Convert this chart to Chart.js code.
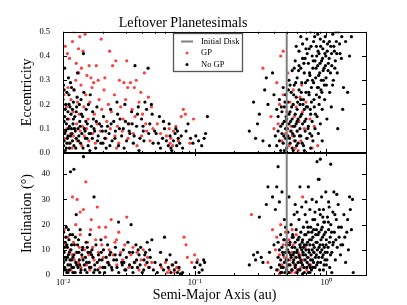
<!DOCTYPE html>
<html>
<head>
<meta charset="utf-8">
<script src="https://cdn.jsdelivr.net/npm/chart.js@4"></script>
<style>
  html, body { margin: 0; padding: 0; background: #fff; }
  #wrap { position: relative; width: 407px; height: 305px; overflow: hidden; }
  canvas { position: absolute; left: 0; }
  #top { top: 0; }
  #bottom { top: 134px; }
</style>
</head>
<body>
<div id="wrap">
  <canvas id="top" width="407" height="171"></canvas>
  <canvas id="bottom" width="407" height="171"></canvas>
</div>
<script>
const SERIF = "'Liberation Serif', 'Times New Roman', serif";

// x axis (semi-major axis, au)
const xMajor = [0.01, 0.1, 1];
const xTickLabels = ["10\u207B\u00B2", "10\u207B\u00B9", "10\u2070"];
const xMinor = [0.02, 0.03, 0.04, 0.05, 0.06, 0.07, 0.08, 0.09,
  0.2, 0.3, 0.4, 0.5, 0.6, 0.7, 0.8, 0.9, 2];
const diskEdges = [0.01, 0.5];
const eccMax = 0.5;
const incMax = 48.8;

// top panel: [a, e]
const gpEcc = [
  [0.0104,0.44],[0.0108,0.41],[0.0112,0.39],[0.0118,0.46],[0.0121,0.50],[0.0126,0.37],[0.0131,0.43],
  [0.0134,0.48],[0.0138,0.35],[0.0142,0.42],[0.0147,0.49],[0.0152,0.32],[0.0158,0.36],[0.0163,0.31],
  [0.0171,0.29],[0.0179,0.36],[0.0185,0.30],[0.0195,0.47],[0.0208,0.31],[0.0226,0.42],[0.0238,0.36],
  [0.0252,0.38],[0.0268,0.30],[0.0290,0.29],[0.0305,0.38],[0.0325,0.29],[0.0348,0.27],[0.036,0.30],
  [0.0415,0.33],[0.0132,0.33],[0.0125,0.30],
  [0.0102,0.24],[0.0106,0.19],[0.0109,0.27],[0.0111,0.14],[0.0115,0.22],[0.0119,0.17],[0.0122,0.26],
  [0.0127,0.12],[0.0129,0.21],[0.0133,0.16],[0.0137,0.28],[0.0141,0.11],[0.0144,0.19],[0.0149,0.24],
  [0.0155,0.14],[0.016,0.21],[0.0166,0.27],[0.0173,0.16],[0.0181,0.12],[0.0188,0.22],[0.0197,0.18],
  [0.0205,0.26],[0.0215,0.13],[0.0221,0.2],[0.0233,0.17],[0.0246,0.24],[0.0259,0.11],[0.0274,0.19],
  [0.0286,0.14],[0.0299,0.22],[0.0318,0.12],[0.0335,0.18],[0.0352,0.15],[0.0378,0.21],[0.0402,0.16],
  [0.0425,0.12],[0.0445,0.23],[0.047,0.19],[0.039,0.25],[0.031,0.27],
  [0.0101,0.09],[0.0103,0.06],[0.0107,0.1],[0.011,0.04],[0.0114,0.08],[0.0117,0.02],[0.012,0.07],
  [0.0123,0.1],[0.0128,0.05],[0.0135,0.09],[0.0139,0.03],[0.0145,0.07],[0.0151,0.1],[0.0157,0.05],
  [0.0168,0.08],[0.0176,0.04],[0.0192,0.09],[0.0212,0.06],[0.0229,0.1],[0.0248,0.07],[0.0265,0.04],
  [0.0282,0.09],[0.0312,0.06],[0.0342,0.08],[0.0365,0.03],[0.0395,0.07],[0.0432,0.09],[0.0458,0.05],
  [0.0482,0.1],[0.0255,0.02],
  [0.052,0.12],[0.055,0.08],[0.058,0.13],[0.061,0.07],[0.064,0.10],[0.066,0.06],[0.069,0.09],
  [0.072,0.11],[0.075,0.05],[0.068,0.03],[0.079,0.15],[0.082,0.18],[0.085,0.16],[0.092,0.04],
  [0.098,0.14],[0.065,0.04],
  [0.33,0.35],[0.38,0.15],[0.40,0.10],[0.42,0.29],[0.44,0.2],[0.45,0.4],[0.46,0.05],[0.47,0.24],
  [0.48,0.13],[0.49,0.08],[0.50,0.17],[0.52,0.03],[0.53,0.21],[0.54,0.11],[0.55,0.07],[0.56,0.26],
  [0.57,0.15],[0.58,0.02],[0.59,0.19],[0.6,0.09],[0.62,0.13],[0.63,0.23],[0.64,0.05],[0.66,0.17],
  [0.68,0.1],[0.7,0.21],[0.72,0.06],[0.75,0.14],[0.78,0.02],[0.81,0.11],[0.86,0.03],[0.51,0.33],
  [0.47,0.42],[0.65,0.28],[0.43,0.12],[0.61,0.01],[0.53,0.09],[0.57,0.05]
];

const noGpEcc = [
  [0.0100,0.22],[0.0101,0.28],[0.0102,0.13],[0.0102,0.05],[0.0103,0.35],[0.0104,0.18],[0.0105,0.09],
  [0.0106,0.02],[0.0107,0.25],[0.0108,0.14],[0.0109,0.07],[0.011,0.31],[0.0111,0.2],[0.0112,0.11],
  [0.0113,0.04],[0.0115,0.16],[0.0116,0.27],[0.0117,0.08],[0.0119,0.12],[0.012,0.21],[0.0121,0.03],
  [0.0123,0.15],[0.0124,0.09],[0.0126,0.06],[0.0127,0.19],[0.0129,0.33],[0.013,0.1],[0.0132,0.07],
  [0.0134,0.13],[0.0136,0.04],[0.0137,0.22],[0.0139,0.08],[0.0141,0.15],[0.0143,0.41],[0.0145,0.1],
  [0.0148,0.06],[0.015,0.18],[0.0153,0.12],[0.0155,0.03],[0.0158,0.08],[0.0161,0.24],[0.0164,0.11],
  [0.0167,0.06],[0.017,0.14],[0.0174,0.09],[0.0177,0.02],[0.0181,0.19],[0.0185,0.07],[0.0189,0.12],
  [0.0194,0.04],[0.0199,0.09],[0.0203,0.15],[0.0208,0.06],[0.0213,0.02],[0.0218,0.11],[0.0224,0.08],
  [0.023,0.18],[0.0236,0.05],[0.0243,0.13],[0.025,0.09],[0.0257,0.21],[0.0264,0.03],[0.0271,0.14],
  [0.0279,0.07],[0.0287,0.1],[0.0295,0.2],[0.0304,0.05],[0.0313,0.12],[0.0322,0.08],[0.0332,0.17],
  [0.0342,0.04],[0.0352,0.36],[0.0362,0.11],[0.0373,0.19],[0.0384,0.06],[0.0395,0.14],[0.0407,0.09],
  [0.0419,0.21],[0.0431,0.18],[0.0443,0.35],[0.0456,0.12],[0.0469,0.2],[0.0483,0.04],[0.0497,0.09],
  [0.0101,0.03],[0.0103,0.08],[0.0104,0.01],[0.0106,0.12],[0.0108,0.06],[0.011,0.1],[0.0112,0.02],
  [0.0114,0.07],[0.0118,0.05],[0.0122,0.1],[0.0125,0.02],[0.0131,0.05],[0.0135,0.11],[0.0142,0.02],
  [0.0147,0.09],[0.0152,0.06],[0.016,0.01],[0.0172,0.1],[0.0183,0.05],[0.0196,0.11],[0.0211,0.09],
  [0.0227,0.03],[0.0248,0.06],[0.0268,0.1],[0.0291,0.02],[0.0318,0.09],[0.0347,0.07],[0.0378,0.01],
  [0.0412,0.05],[0.0448,0.08],
  [0.0102,0.26],[0.0105,0.2],[0.0109,0.17],[0.0111,0.24],[0.0114,0.29],[0.0118,0.18],[0.0121,0.26],
  [0.0128,0.23],[0.0133,0.2],[0.0144,0.25],[0.0156,0.2],[0.0168,0.17],
  [0.0103,0.15],[0.0107,0.04],[0.0113,0.19],[0.0116,0.1],[0.012,0.14],[0.0126,0.17],[0.0138,0.16],
  [0.0149,0.13],[0.0162,0.08],[0.0179,0.13],[0.0201,0.04],[0.0232,0.12],[0.026,0.16],[0.0298,0.13],
  [0.0335,0.12],[0.0368,0.16],[0.0405,0.11],[0.0475,0.16],
  [0.051,0.08],[0.053,0.04],[0.055,0.02],[0.057,0.06],[0.059,0.1],[0.061,0.05],[0.063,0.03],
  [0.065,0.07],[0.067,0.01],[0.069,0.05],[0.071,0.08],[0.073,0.03],[0.075,0.06],[0.077,0.04],
  [0.072,0.1],[0.064,0.12],[0.058,0.13],[0.054,0.15],[0.081,0.02],[0.086,0.09],[0.089,0.12],
  [0.093,0.06],[0.097,0.04],[0.102,0.07],[0.107,0.05],[0.113,0.03],[0.118,0.06],[0.121,0.08],
  [0.125,0.15],[0.079,0.07],[0.066,0.02],[0.074,0.09],
  [0.26,0.09],[0.28,0.21],[0.30,0.12],[0.31,0.16],[0.33,0.05],[0.34,0.26],[0.35,0.31],[0.36,0.2],
  [0.37,0.03],[0.39,0.33],[0.4,0.24],[0.41,0.07],[0.42,0.18],[0.29,0.06],
  [0.42,0.03],[0.43,0.09],[0.43,0.15],[0.44,0.05],[0.44,0.22],[0.45,0.11],[0.45,0.01],[0.46,0.17],
  [0.46,0.08],[0.47,0.27],[0.47,0.04],[0.48,0.13],[0.48,0.19],[0.49,0.06],[0.49,0.1],[0.49,0.24],
  [0.5,0.02],[0.5,0.14],
  [0.51,0.07],[0.51,0.21],[0.52,0.12],[0.52,0.3],[0.53,0.04],[0.53,0.17],[0.54,0.09],[0.54,0.25],
  [0.55,0.14],[0.55,0.02],[0.55,0.34],[0.56,0.11],[0.56,0.2],[0.57,0.07],[0.57,0.28],[0.58,0.16],
  [0.58,0.38],[0.58,0.05],[0.59,0.12],[0.59,0.23],[0.6,0.09],[0.6,0.31],[0.6,0.18],
  [0.61,0.04],[0.61,0.14],[0.62,0.26],[0.62,0.42],[0.63,0.1],[0.63,0.2],[0.64,0.35],[0.64,0.07],
  [0.65,0.16],[0.65,0.29],[0.66,0.12],[0.66,0.45],[0.67,0.22],[0.67,0.03],[0.68,0.33],[0.68,0.18],
  [0.69,0.09],[0.69,0.39],[0.7,0.25],[0.7,0.14],[0.71,0.47],[0.71,0.06],[0.72,0.3],[0.72,0.19],
  [0.73,0.11],[0.73,0.37],[0.74,0.24],[0.74,0.43],[0.75,0.08],[0.75,0.32],[0.76,0.16],[0.76,0.5],
  [0.77,0.27],[0.77,0.21],[0.78,0.4],[0.78,0.13],[0.79,0.35],[0.79,0.05],[0.8,0.29],[0.8,0.46],
  [0.81,0.19],[0.82,0.38],[0.82,0.1],[0.83,0.31],[0.84,0.44],[0.84,0.24],[0.85,0.15],[0.86,0.36],
  [0.86,0.49],[0.87,0.27],[0.88,0.2],[0.88,0.41],[0.89,0.33],[0.9,0.12],[0.9,0.47],[0.91,0.26],
  [0.92,0.38],[0.93,0.18],[0.94,0.43],[0.95,0.3],[0.96,0.35],[0.97,0.22],[0.98,0.48],[0.99,0.4],
  [1.0,0.28],[1.01,0.14],[1.02,0.45],[1.03,0.34],[1.05,0.39],[1.06,0.25],[1.08,0.44],[1.09,0.19],
  [1.1,0.36],[1.12,0.49],[1.13,0.3],[1.15,0.42],[1.17,0.38],[1.19,0.46],[1.21,0.33],[1.24,0.5],
  [1.27,0.41],[1.3,0.39],[1.35,0.27],[1.4,0.46],[1.45,0.25],[1.5,0.4],[1.55,0.48],[1.33,0.18],
  [1.22,0.1],[0.93,0.05],[0.87,0.08],[0.76,0.02],[0.68,0.01],[0.56,0.01],[0.64,0.48],[0.7,0.43],
  [0.59,0.44],[0.62,0.36],[0.66,0.39],
  [0.455,0.19],[0.465,0.12],[0.475,0.07],[0.485,0.21],[0.495,0.15],[0.505,0.1],[0.515,0.26],
  [0.525,0.06],[0.535,0.13],[0.545,0.19],[0.555,0.08],[0.565,0.24],[0.575,0.11],[0.585,0.29],
  [0.595,0.03],[0.605,0.21],[0.615,0.34],[0.625,0.07],[0.635,0.15],[0.645,0.25],[0.655,0.04],
  [0.665,0.2],[0.675,0.37],[0.685,0.13],[0.695,0.29],[0.705,0.19],[0.715,0.41],[0.725,0.1],
  [0.735,0.25],[0.745,0.33],[0.755,0.18],[0.765,0.44],[0.775,0.07],[0.785,0.3],[0.795,0.38],
  [0.805,0.22],[0.815,0.48],[0.825,0.16],[0.835,0.35],[0.845,0.4],[0.855,0.27],[0.865,0.42],
  [0.875,0.32],[0.885,0.23],[0.895,0.37],[0.905,0.44],[0.915,0.3],[0.925,0.25],[0.935,0.39],
  [0.945,0.34],[0.955,0.46],[0.965,0.28],[0.975,0.41],[0.985,0.36],[0.995,0.31],[1.015,0.42],
  [1.035,0.37],[1.055,0.46],[1.075,0.33],[1.095,0.41],[1.115,0.28],[1.14,0.44],[1.16,0.35],
  [1.18,0.5],[1.2,0.41],[1.26,0.45],[1.31,0.48],[0.48,0.01],[0.52,0.16],[0.6,0.13],[0.64,0.22],
  [0.57,0.35],[0.53,0.28],[0.5,0.06]
];

// bottom panel: [a, inclination in degrees]
const gpInc = [
  [0.0102,18],[0.0105,12],[0.0107,7],[0.0109,15],[0.0111,4],[0.0113,10],[0.0115,2],[0.0117,8],
  [0.012,13],[0.0122,6],[0.0124,1],[0.0126,9],[0.0128,30],[0.0131,5],[0.0133,11],[0.0135,16],
  [0.0137,3],[0.014,7],[0.0143,26],[0.0146,10],[0.0149,37],[0.0151,4],[0.0154,13],[0.0157,8],
  [0.016,2],[0.0164,22],[0.0168,11],[0.0172,6],[0.0177,14],[0.0182,27],[0.0186,9],[0.0191,3],
  [0.0197,12],[0.0203,7],[0.021,15],[0.0217,5],[0.0224,10],[0.0232,22],[0.024,8],[0.0248,13],
  [0.0256,4],[0.0265,17],[0.0274,9],[0.0284,6],[0.0294,12],[0.0305,23],[0.0316,3],[0.0328,8],
  [0.034,11],[0.0352,5],[0.0365,9],[0.0378,2],[0.0392,6],[0.0407,10],[0.0422,4],[0.0438,7],
  [0.0455,3],[0.0472,5],[0.0125,20],[0.0135,25],[0.0118,31],[0.0162,18],[0.0188,19],[0.0211,19],
  [0.0255,14],
  [0.056,3],[0.06,5],[0.064,2],[0.067,4],[0.07,1],[0.073,3],[0.076,2],[0.062,1],[0.083,15],
  [0.086,12],[0.088,7],[0.095,5],[0.1,8],[0.105,6],
  [0.27,24],[0.36,5],[0.39,18],[0.41,10],[0.42,15],[0.43,2],[0.44,8],[0.45,20],[0.46,4],[0.47,12],
  [0.48,7],[0.49,17],[0.5,3],[0.51,10],[0.52,14],[0.53,6],[0.54,1],[0.55,9],[0.56,12],[0.57,4],
  [0.58,7],[0.59,16],[0.6,2],[0.61,9],[0.62,5],[0.63,12],[0.64,3],[0.65,8],[0.67,6],[0.69,11],
  [0.71,2],[0.73,7],[0.76,4],[0.8,9],[0.66,31],[0.55,18],[0.5,13],[0.58,1],[0.44,0.5]
];

const noGpInc = [
  [0.0101,17],[0.0102,9],[0.0103,3],[0.0104,13],[0.0105,6],[0.0106,19],[0.0107,1],[0.0108,11],
  [0.0109,4],[0.011,8],[0.0111,14],[0.0112,2],[0.0113,6],[0.0114,41],[0.0115,10],[0.0117,3],
  [0.0118,16],[0.0119,7],[0.0121,42],[0.0122,12],[0.0123,1],[0.0125,5],[0.0126,24],[0.0128,9],
  [0.013,3],[0.0131,14],[0.0133,6],[0.0135,18],[0.0137,2],[0.0139,8],[0.0141,11],[0.0143,47],
  [0.0145,4],[0.0148,7],[0.015,13],[0.0152,1],[0.0155,9],[0.0158,5],[0.016,16],[0.0163,3],
  [0.0166,10],[0.0169,7],[0.0172,31],[0.0175,2],[0.0178,12],[0.0182,5],[0.0186,8],[0.019,1],
  [0.0194,14],[0.0198,6],[0.0203,10],[0.0208,3],[0.0213,7],[0.0218,12],[0.0224,4],[0.023,9],
  [0.0236,2],[0.0243,6],[0.025,11],[0.0257,3],[0.0264,21],[0.0271,8],[0.0279,5],[0.0287,10],
  [0.0295,2],[0.0303,7],[0.0311,13],[0.032,4],[0.0329,20],[0.0338,9],[0.0348,5],[0.0358,12],
  [0.0368,3],[0.0378,8],[0.0389,11],[0.04,1],[0.0412,6],[0.0424,9],[0.0436,13],[0.0448,3],
  [0.046,7],[0.0473,14],[0.0486,2],[0.05,5],
  [0.0101,5],[0.0103,11],[0.0105,15],[0.0106,2],[0.0108,7],[0.011,18],[0.0112,9],[0.0114,4],
  [0.0116,12],[0.0119,1],[0.0121,8],[0.0124,15],[0.0127,4],[0.0132,9],[0.0136,1],[0.0142,6],
  [0.0147,2],[0.0153,11],[0.0159,3],[0.0165,8],[0.0174,4],[0.0184,2],[0.0195,9],[0.0207,1],
  [0.022,5],[0.0234,3],[0.0249,8],[0.0265,1],[0.0282,4],[0.03,2],[0.032,9],[0.034,1],[0.0362,6],
  [0.0385,4],[0.041,2],[0.0435,5],
  [0.0102,2],[0.0104,7],[0.0107,12],[0.0109,1],[0.0113,16],[0.0116,6],[0.012,3],[0.0129,12],
  [0.0134,4],[0.014,10],[0.0151,5],[0.0161,9],[0.0171,1],[0.0189,6],[0.0201,3],[0.0226,8],
  [0.0255,6],[0.029,5],[0.0335,3],[0.0372,10],[0.0418,8],[0.0455,10],
  [0.052,1],[0.055,4],[0.058,2],[0.061,6],[0.063,3],[0.066,1],[0.068,4],[0.07,2],[0.072,5],
  [0.074,1],[0.076,3],[0.078,0.5],[0.059,15],[0.055,9],[0.065,8],[0.081,1],[0.1,3],[0.104,5],
  [0.108,1],[0.11,4],[0.114,2],[0.117,6],[0.119,5],
  [0.26,4],[0.28,8],[0.29,6],[0.3,9],[0.31,23],[0.32,7],[0.33,5],[0.35,28],[0.36,35],[0.37,9],
  [0.38,3],[0.39,31],[0.4,12],[0.41,26],[0.42,35],[0.43,43],[0.44,29],[0.46,33],[0.45,1],
  [0.42,2],[0.43,7],[0.43,13],[0.44,4],[0.44,10],[0.45,16],[0.45,6],[0.46,1],[0.46,11],[0.47,8],
  [0.47,3],[0.48,14],[0.48,5],[0.49,19],[0.49,9],[0.5,2],[0.5,12],[0.51,6],[0.51,17],[0.52,1],
  [0.52,9],[0.53,13],[0.53,4],[0.54,20],[0.54,7],[0.55,11],[0.55,2],[0.56,15],[0.56,5],[0.57,9],
  [0.57,24],[0.58,3],[0.58,13],[0.59,7],[0.59,18],[0.6,1],[0.6,10],[0.61,14],[0.61,5],[0.62,22],
  [0.62,8],[0.63,12],[0.63,2],[0.64,17],[0.64,6],[0.65,27],[0.65,10],[0.66,4],[0.66,14],[0.67,19],
  [0.67,8],[0.68,1],[0.68,12],[0.69,24],[0.69,6],[0.7,16],[0.7,10],[0.71,3],[0.71,21],[0.72,13],
  [0.72,7],[0.73,35],[0.73,17],[0.74,9],[0.74,4],[0.75,26],[0.75,12],[0.76,19],[0.76,6],[0.77,14],
  [0.77,2],[0.78,30],[0.78,10],[0.79,22],[0.79,15],[0.8,5],[0.8,18],[0.81,11],[0.82,25],[0.82,3],
  [0.83,16],[0.84,8],[0.84,29],[0.85,13],[0.86,20],[0.86,5],[0.87,38],[0.88,11],[0.88,17],[0.89,2],
  [0.9,24],[0.9,9],[0.91,14],[0.92,31],[0.93,7],[0.93,19],[0.94,12],[0.95,26],[0.96,4],[0.96,16],
  [0.97,21],[0.98,9],[0.99,33],[1.0,14],[1.01,6],[1.02,23],[1.03,11],[1.04,18],[1.05,27],[1.06,3],
  [1.07,15],[1.08,20],[1.1,9],[1.12,25],[1.13,13],[1.15,17],[1.17,6],[1.19,22],[1.21,11],[1.23,28],
  [1.25,15],[1.28,8],[1.3,19],[1.33,12],[1.36,24],[1.4,5],[1.43,17],[1.47,10],[1.5,31],[1.55,18],
  [1.6,1],[1.58,30],[1.52,26],[0.85,45],[0.9,46],[1.08,44],[0.88,38],[1.2,32],[1.14,33],[0.63,35],
  [0.7,29],[0.95,2],[1.0,4],[0.75,1],[0.66,0.5],[1.1,1],[0.58,28],[0.52,31],[0.55,15],[0.6,25],
  [0.48,22],
  [0.455,3],[0.465,9],[0.475,14],[0.485,1],[0.495,6],[0.505,10],[0.515,4],[0.525,12],[0.535,8],
  [0.545,2],[0.555,16],[0.565,6],[0.575,11],[0.585,4],[0.595,9],[0.605,14],[0.615,2],[0.625,7],
  [0.635,11],[0.645,5],[0.655,13],[0.665,9],[0.675,3],[0.685,16],[0.695,8],[0.705,12],[0.715,5],
  [0.725,19],[0.735,10],[0.745,14],[0.755,3],[0.765,8],[0.775,17],[0.785,6],[0.795,12],[0.805,9],
  [0.815,22],[0.825,7],[0.835,13],[0.845,4],[0.855,10],[0.865,16],[0.875,7],[0.885,26],[0.895,12],
  [0.905,5],[0.915,18],[0.925,10],[0.935,15],[0.945,8],[0.955,21],[0.965,11],[0.975,6],[0.985,17],
  [0.995,12],[1.015,9],[1.035,21],[1.055,13],[1.075,8],[1.095,17],[1.12,12],[1.16,24],[1.18,14],
  [1.24,19],[1.29,12],[1.38,15],[1.45,22],[0.51,1],[0.56,8],[0.62,15],[0.67,11],[0.73,1],[0.79,3],
  [0.84,18],[0.94,23],[1.04,29]
];

const toXY = arr => arr.map(p => ({ x: p[0], y: p[1] }));

function makeDatasets(gp, noGp, yMax) {
  const sets = diskEdges.map(a => ({
    type: "line",
    label: "Initial Disk",
    data: [{ x: a, y: 0 }, { x: a, y: yMax }],
    borderColor: "#808080",
    borderWidth: 2,
    pointRadius: 0,
    order: 0,
  }));
  sets.push({
    label: "No GP",
    data: toXY(noGp),
    pointBackgroundColor: "#000",
    pointBorderWidth: 0,
    pointRadius: 1.6,
    order: 1,
  });
  sets.push({
    label: "GP",
    data: toXY(gp),
    pointBackgroundColor: "rgba(255, 30, 30, 0.85)",
    pointBorderWidth: 0,
    pointRadius: 1.6,
    order: 2,
  });
  return sets;
}

// frame + inward ticks, matplotlib style
const framePlugin = {
  id: "frame",
  afterDatasetsDraw(chart) {
    const { ctx, chartArea: a, scales } = chart;
    const x = scales.x, y = scales.y;
    ctx.save();
    ctx.strokeStyle = "#000";
    ctx.lineWidth = 1;
    ctx.beginPath();
    const seg = (px, py, dx, dy) => { ctx.moveTo(px, py); ctx.lineTo(px + dx, py + dy); };
    xMajor.forEach(v => {
      const p = Math.round(x.getPixelForValue(v)) + 0.5;
      seg(p, a.top, 0, 4); seg(p, a.bottom, 0, -4);
    });
    xMinor.forEach(v => {
      const p = Math.round(x.getPixelForValue(v)) + 0.5;
      seg(p, a.top, 0, 2); seg(p, a.bottom, 0, -2);
    });
    y.ticks.forEach(t => {
      const p = Math.round(y.getPixelForValue(t.value)) + 0.5;
      seg(a.left, p, 4, 0); seg(a.right, p, -4, 0);
    });
    ctx.stroke();
    ctx.strokeRect(Math.round(a.left) + 0.5, Math.round(a.top) + 0.5,
      Math.round(a.right - a.left), Math.round(a.bottom - a.top));
    ctx.restore();
  }
};

// legend box in the top panel
const legendPlugin = {
  id: "boxLegend",
  afterDraw(chart) {
    const ctx = chart.ctx;
    ctx.save();
    ctx.fillStyle = "#fff";
    ctx.fillRect(173, 33, 70, 39);
    ctx.strokeStyle = "#555";
    ctx.lineWidth = 1.3;
    ctx.strokeRect(173.5, 33.5, 69, 38);
    ctx.strokeStyle = "#808080";
    ctx.lineWidth = 2;
    ctx.beginPath(); ctx.moveTo(181, 41.5); ctx.lineTo(193, 41.5); ctx.stroke();
    ctx.fillStyle = "rgba(255, 30, 30, 0.85)";
    ctx.beginPath(); ctx.arc(187, 53, 1.5, 0, Math.PI * 2); ctx.fill();
    ctx.fillStyle = "#000";
    ctx.beginPath(); ctx.arc(187, 64.5, 1.5, 0, Math.PI * 2); ctx.fill();
    ctx.font = "8.5px " + SERIF;
    ctx.textBaseline = "middle";
    ctx.fillText("Initial Disk", 201, 41.5);
    ctx.fillText("GP", 201, 53);
    ctx.fillText("No GP", 201, 64.5);
    ctx.restore();
  }
};

const tickFont = { family: SERIF, size: 8.5 };
const titleFont = { family: SERIF, size: 14, weight: "normal" };

new Chart(document.getElementById("top"), {
  type: "scatter",
  data: { datasets: makeDatasets(gpEcc, noGpEcc, eccMax) },
  options: {
    responsive: false,
    animation: false,
    events: [],
    layout: { padding: { left: 0, right: 41, top: 0, bottom: 1 } },
    plugins: {
      legend: { display: false },
      tooltip: { enabled: false },
      title: {
        display: true,
        text: "Leftover Planetesimals",
        color: "#000",
        font: titleFont,
        padding: { top: 15, bottom: 0 },
      },
    },
    scales: {
      x: { type: "logarithmic", min: 0.01, max: 2, display: false },
      y: {
        min: 0, max: eccMax,
        afterFit: s => { s.width = 63; },
        grid: { display: false, drawTicks: false },
        border: { display: false },
        ticks: { stepSize: 0.1, padding: 13, color: "#000", font: tickFont,
          callback: v => v.toFixed(1) },
        title: { display: true, text: "Eccentricity", color: "#000", font: titleFont,
          padding: { top: 18.5, bottom: 0 } },
      },
    },
  },
  plugins: [framePlugin, legendPlugin],
});

new Chart(document.getElementById("bottom"), {
  type: "scatter",
  data: { datasets: makeDatasets(gpInc, noGpInc, incMax) },
  options: {
    responsive: false,
    animation: false,
    events: [],
    layout: { padding: { left: 0, right: 41, top: 6, bottom: 0 } },
    plugins: { legend: { display: false }, tooltip: { enabled: false } },
    scales: {
      x: {
        type: "logarithmic", min: 0.01, max: 2,
        afterBuildTicks: s => { s.ticks = xMajor.map(v => ({ value: v })); },
        afterFit: s => { s.height = 30; },
        grid: { display: false, drawTicks: false },
        border: { display: false },
        ticks: { autoSkip: false, maxRotation: 0, padding: 3, color: "#000", font: tickFont,
          callback: (v, i) => xTickLabels[i] },
        title: { display: true, text: "Semi-Major Axis (au)", color: "#000", font: titleFont,
          padding: { top: 0, bottom: 1 } },
      },
      y: {
        min: 0, max: incMax,
        afterFit: s => { s.width = 63; },
        grid: { display: false, drawTicks: false },
        border: { display: false },
        ticks: { stepSize: 10, includeBounds: false, padding: 13, color: "#000", font: tickFont },
        title: { display: true, text: "Inclination (\u00B0)", color: "#000", font: titleFont,
          padding: { top: 18.5, bottom: 0 } },
      },
    },
  },
  plugins: [framePlugin],
});
</script>
</body>
</html>
